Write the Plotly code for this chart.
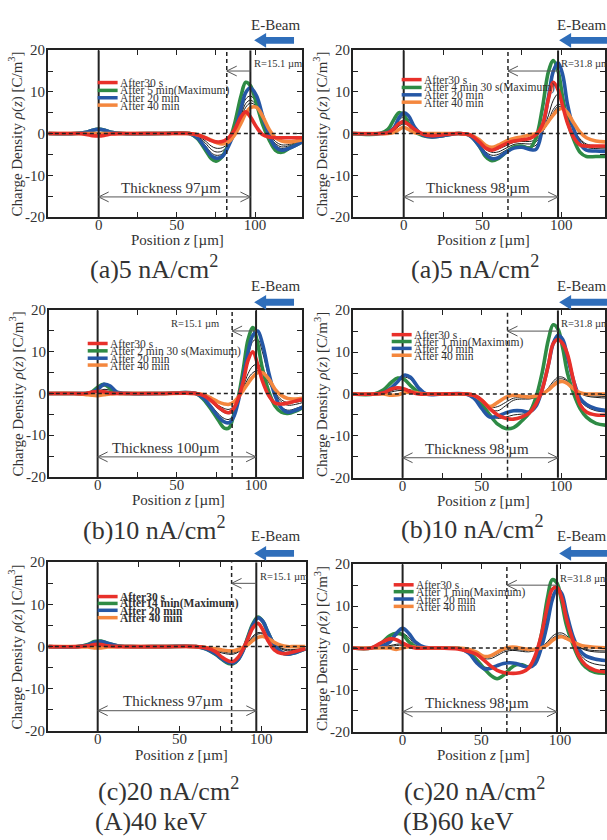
import plotly.graph_objects as go

W, H = 607, 840
FONT = "Liberation Serif, Times New Roman, serif"
RED, GREEN, BLUE, ORANGE = "#E8302A", "#2E8B45", "#2557A5", "#F4873E"
ARROW_BLUE = "#2F6EBA"
INK = "#222222"
TXT = "#333333"

# ------------------------------------------------------------------ data
LEGEND_NAMES = {
    "Aa": ["After30 s", "After 5 min(Maximum)", "After 20 min", "After 40 min"],
    "Ba": ["After30 s", "After 4 min 30 s(Maximum)", "After 20 min", "After 40 min"],
    "Ab": ["After30 s", "After 2 min 30 s(Maximum)", "After 20 min", "After 40 min"],
    "Bb": ["After30 s", "After 1 min(Maximum)", "After 20 min", "After 40 min"],
    "Ac": ["After30 s", "After14 min(Maximum)", "After 20 min", "After 40 min"],
    "Bc": ["After30 s", "After 1 min(Maximum)", "After 20 min", "After 40 min"],
}
THICKNESS = {"Aa": 97, "Ba": 98, "Ab": 100, "Bb": 98, "Ac": 97, "Bc": 98}
THICK_LABEL = {"Aa": "Thickness 97µm", "Ba": "Thickness 98 µm", "Ab": "Thickness 100µm",
               "Bb": "Thickness 98 µm", "Ac": "Thickness 97µm", "Bc": "Thickness 98 µm"}
RANGE_R = {"Aa": 15.1, "Ba": 31.8, "Ab": 15.1, "Bb": 31.8, "Ac": 15.1, "Bc": 31.8}
CURRENT = {"Aa": "(a)5 nA/cm", "Ba": "(a)5 nA/cm", "Ab": "(b)10 nA/cm",
           "Bb": "(b)10 nA/cm", "Ac": "(c)20 nA/cm", "Bc": "(c)20 nA/cm"}
ENERGY = ["(A)40 keV", "(B)60 keV"]
X_MAJOR = [0, 50, 100]
X_MINOR = [25, 75]
Y_MAJOR = [-20, -10, 0, 10, 20]
Y_MINOR = [-15, -5, 5, 15]

# (A) 40 keV, 5 nA/cm2
x_Aa = [-32, -15, -8, -4, 0, 4, 8, 15, 40, 58, 63, 68, 72, 75, 79, 83, 87, 91, 94, 97,
        101, 105, 109, 113, 117, 122, 130]
red_Aa = [0, 0, -0.2, -0.5, -0.6, -0.4, -0.1, 0, 0, 0, -0.3, -1.0, -1.7, -2.0, -1.9, -1.0, 1.0, 4.0, 5.2, 4.0,
          1.5, -0.3, -0.8, -1.0, -1.0, -1.0, -1.0]
green_Aa = [0, 0, 0.3, 0.8, 1.1, 0.8, 0.3, 0, 0, 0, -1.2, -3.8, -6.0, -6.6, -5.5, -2.5, 2.5, 9.0, 12.3, 11.5,
            7.0, 2.0, -1.5, -4.0, -4.5, -3.5, -2.0]
blue_Aa = [0, 0, 0.3, 0.8, 1.0, 0.8, 0.3, 0, 0, 0, -1.0, -3.3, -5.3, -5.9, -5.5, -3.0, 0.5, 6.0, 9.8, 11.0,
           9.0, 4.0, -0.5, -3.2, -4.0, -3.5, -2.0]
orange_Aa = [0, 0, 0, 0, 0, 0, 0, 0, 0, 0, -0.3, -0.9, -1.6, -2.1, -2.5, -2.0, -0.3, 2.5, 4.8, 6.2,
             6.3, 4.0, 1.0, -1.0, -1.8, -2.0, -1.5]
k1_Aa = [0, 0, 0, 0, 0, 0, 0, 0, 0, 0, -0.8, -2.8, -4.6, -5.2, -4.9, -2.8, 0.3, 5.0, 8.3, 9.0,
         7.5, 3.3, -0.4, -2.8, -3.6, -3.2, -1.9]
k2_Aa = [0, 0, 0, 0, 0, 0, 0, 0, 0, 0, -0.6, -2.2, -3.8, -4.4, -4.2, -2.6, 0.2, 4.3, 7.2, 8.0,
         6.8, 3.2, -0.3, -2.4, -3.2, -2.9, -1.8]
k3_Aa = [0, 0, 0, 0, 0, 0, 0, 0, 0, 0, -0.5, -1.7, -3.0, -3.5, -3.4, -2.3, 0.0, 3.6, 6.3, 7.3,
         6.5, 3.4, 0.1, -1.9, -2.7, -2.6, -1.7]

# (B) 60 keV, 5 nA/cm2
x_Ba = [-33, -15, -10, -6, -3, 0, 3, 7, 12, 18, 25, 35, 42, 48, 52, 56, 60, 65, 70, 75,
        80, 84, 88, 92, 95, 98, 101, 104, 108, 112, 116, 122, 130]
red_Ba = [0, 0, 0.2, 1.2, 2.4, 2.8, 2.2, 1.0, -0.1, -0.5, -0.3, 0, -0.3, -2.0, -3.5, -4.0, -3.4, -2.4, -1.8, -1.5,
          -1.2, -0.3, 2.0, 8.5, 12.3, 10.5, 6.5, 2.5, -1.0, -2.7, -3.0, -3.0, -3.0]
green_Ba = [0, 0, 1.0, 3.5, 5.0, 4.5, 2.5, 0.5, -0.5, -0.8, -0.5, 0, -0.5, -3.0, -5.5, -6.5, -6.0, -4.5, -3.2, -3.0,
            -3.5, -1.0, 6.0, 15.0, 17.5, 15.0, 8.5, 3.0, -1.5, -4.5, -5.5, -5.5, -5.5]
blue_Ba = [0, 0, 0.3, 1.5, 3.8, 5.0, 4.3, 1.5, -0.3, -0.8, -0.5, 0, -0.5, -3.0, -5.0, -6.0, -5.8, -4.5, -3.5, -3.3,
           -3.8, -3.8, 1.0, 9.0, 15.0, 17.0, 14.0, 7.0, 1.0, -2.5, -4.0, -4.2, -4.3]
orange_Ba = [0, 0, 0, 0.3, 1.0, 1.5, 1.0, 0.2, 0, 0, 0, 0, -0.3, -1.5, -2.8, -3.3, -2.8, -1.8, -1.2, -0.8,
             -0.3, 0, 1.0, 3.0, 4.5, 5.7, 6.0, 5.0, 2.5, 0.3, -1.0, -1.8, -2.0]
k1_Ba = [0, 0, 0.3, 1.5, 3.2, 4.0, 3.5, 1.2, -0.2, -0.6, -0.4, 0, -0.4, -2.6, -4.4, -5.2, -5.0, -4.0, -3.1, -2.9,
         -3.2, -2.8, 0.2, 4.5, 8.0, 9.5, 8.3, 4.5, 0.8, -2.0, -3.3, -3.6, -3.7]
k2_Ba = [0, 0, 0.2, 1.0, 2.5, 3.2, 2.8, 1.0, -0.1, -0.5, -0.3, 0, -0.3, -2.2, -3.8, -4.5, -4.4, -3.5, -2.6, -2.4,
         -2.5, -2.0, 0.3, 3.2, 5.8, 7.0, 6.5, 3.8, 0.8, -1.6, -2.8, -3.2, -3.3]
k3_Ba = [0, 0, 0.1, 0.7, 1.8, 2.3, 2.0, 0.7, 0, -0.4, -0.2, 0, -0.3, -1.9, -3.3, -3.9, -3.7, -2.9, -2.1, -1.9,
         -1.9, -1.4, 0.4, 2.8, 5.0, 6.5, 6.1, 3.8, 1.0, -1.3, -2.5, -2.9, -3.0]

# (A) 40 keV, 10 nA/cm2
x_Ab = [-31, -15, -8, -4, 0, 4, 8, 12, 20, 40, 62, 67, 72, 76, 80, 83, 86, 89, 92, 95,
        98, 101, 104, 108, 112, 116, 120, 125, 131]
red_Ab = [0, 0, 0, 0.3, 0.5, 0.4, 0.1, 0, 0, 0, 0, -0.5, -1.8, -3.2, -4.3, -4.6, -3.5, -1.0, 3.0, 8.0,
          10.0, 7.0, 3.0, -0.5, -2.3, -2.5, -2.3, -1.8, -1.3]
green_Ab = [0, 0, 0, 0.3, 1.5, 2.2, 1.2, 0.2, 0, 0, 0, -1.5, -4.0, -6.3, -8.3, -8.2, -5.0, -0.5, 6.0, 13.0,
            15.8, 12.0, 6.0, 0.5, -3.0, -4.5, -4.8, -4.2, -3.0]
blue_Ab = [0, 0, 0, 0.2, 1.0, 2.2, 1.8, 0.4, 0, 0, 0, -1.2, -3.5, -5.5, -6.8, -7.0, -5.5, -1.5, 4.0, 10.0,
           14.0, 15.0, 12.0, 5.0, -0.5, -3.5, -4.5, -4.0, -3.0]
orange_Ab = [0, 0, -0.2, -0.4, -0.5, -0.3, -0.1, 0, 0, 0, 0, -0.3, -1.2, -2.0, -2.5, -2.6, -2.0, -0.8, 0.8, 2.5,
             4.0, 5.0, 5.0, 3.5, 1.0, -0.5, -1.2, -1.3, -1.0]
k1_Ab = [0, 0, 0, 0.2, 0.8, 1.8, 1.5, 0.3, 0, 0, 0, -1.0, -3.0, -4.8, -6.0, -6.2, -4.8, -1.2, 3.5, 8.8,
         12.5, 13.0, 10.0, 4.0, -0.6, -3.2, -4.0, -3.6, -2.7]
k2_Ab = [0, 0, 0, 0.1, 0.5, 1.0, 0.8, 0.2, 0, 0, 0, -0.7, -2.2, -3.6, -4.6, -4.8, -3.8, -1.2, 1.8, 4.8,
         6.6, 7.0, 6.0, 3.0, 0, -2.0, -2.8, -2.6, -2.0]
k3_Ab = [0, 0, 0, 0, 0.3, 0.6, 0.5, 0.1, 0, 0, 0, -0.5, -1.7, -2.8, -3.6, -3.8, -3.0, -1.0, 1.3, 3.6,
         5.0, 5.5, 4.9, 2.6, 0.2, -1.5, -2.2, -2.1, -1.6]

# (B) 60 keV, 10 nA/cm2
x_Bb = [-32, -18, -12, -7, -3, 1, 5, 10, 15, 25, 40, 45, 50, 55, 60, 65, 70, 75, 80, 84,
        88, 92, 95, 98, 101, 104, 108, 112, 116, 122, 130]
red_Bb = [0, 0, 0.3, 1.2, 1.5, 1.2, 0.5, 0, 0, 0, 0, -0.3, -1.5, -3.5, -5.0, -5.8, -6.0, -5.5, -4.5, -2.5,
          1.0, 7.0, 12.0, 13.0, 12.0, 9.5, 3.0, -2.5, -4.3, -5.0, -5.0]
green_Bb = [0, 0, 1.0, 2.8, 3.8, 3.5, 2.0, 0.5, 0, 0, 0, -0.5, -2.5, -5.0, -7.2, -8.2, -8.0, -6.5, -4.5, -1.0,
            5.0, 13.0, 16.5, 15.5, 11.0, 5.0, 0, -3.5, -5.5, -7.0, -7.5]
blue_Bb = [0, 0, 0.3, 1.5, 3.0, 4.5, 4.0, 1.5, 0, 0, 0, -1.0, -3.5, -5.5, -5.3, -4.5, -4.0, -4.0, -4.3, -3.0,
           1.0, 7.0, 12.0, 14.0, 13.0, 9.0, 3.0, -1.0, -2.5, -3.5, -4.0]
orange_Bb = [0, 0, 0, -0.3, -0.2, 0.3, 0.5, 0.2, 0, 0, 0, -0.3, -1.5, -3.0, -2.0, -0.8, -0.3, -0.5, -0.7, -0.5,
             0, 1.0, 2.0, 2.8, 3.0, 2.5, 1.2, 0.3, 0, 0, 0]
k1_Bb = [0, 0, 0.3, 1.5, 3.0, 4.0, 3.5, 1.2, 0, 0, 0, -0.8, -3.0, -5.0, -5.8, -5.5, -5.0, -4.8, -4.5, -2.8,
         1.0, 7.5, 12.5, 14.2, 12.5, 8.0, 2.5, -1.5, -3.0, -4.0, -4.3]
k2_Bb = [0, 0, 0.2, 0.8, 1.2, 1.2, 1.0, 0.4, 0, 0, 0, -0.5, -1.8, -3.5, -4.0, -2.8, -1.5, -1.2, -1.2, -0.8,
         0, 1.5, 3.0, 4.0, 4.0, 3.2, 1.5, 0.2, -0.5, -0.8, -1.0]
k3_Bb = [0, 0, 0.1, 0.5, 0.8, 0.8, 0.7, 0.3, 0, 0, 0, -0.4, -1.6, -3.2, -3.0, -2.0, -1.0, -0.9, -1.0, -0.7,
         0, 1.2, 2.5, 3.5, 3.6, 3.0, 1.4, 0.2, -0.3, -0.5, -0.6]

# (A) 40 keV, 20 nA/cm2
x_Ac = [-30, -12, -6, -2, 2, 6, 12, 20, 40, 60, 66, 72, 76, 80, 83, 86, 89, 92, 95, 98,
        101, 104, 108, 112, 116, 120, 127]
red_Ac = [0, 0, 0.2, 0.5, 0.5, 0.2, 0, 0, 0, 0, -0.3, -1.2, -2.5, -3.4, -3.5, -2.5, -0.5, 2.0, 4.5, 5.5,
          4.0, 1.5, -0.8, -1.6, -1.6, -1.2, -0.5]
green_Ac = [0, 0, 0.5, 1.2, 1.3, 0.8, 0.2, 0, 0, 0, -0.5, -1.8, -3.0, -4.0, -4.0, -3.0, -0.8, 2.5, 5.5, 7.0,
            6.0, 3.5, 0.5, -1.2, -1.8, -1.5, -0.5]
blue_Ac = [0, 0, 0.4, 1.0, 1.2, 0.8, 0.2, 0, 0, 0, -0.5, -1.7, -2.9, -3.8, -3.9, -3.0, -0.9, 2.2, 5.2, 6.8,
           6.0, 3.5, 0.5, -1.2, -1.8, -1.5, -0.5]
orange_Ac = [0, 0, -0.1, -0.3, -0.3, -0.1, 0, 0, 0, 0, -0.2, -0.5, -0.8, -1.0, -1.0, -0.7, -0.2, 0.5, 1.5, 2.2,
             2.4, 2.0, 1.0, 0.3, 0, 0, 0]
k1_Ac = [0, 0, 0.2, 0.5, 0.6, 0.3, 0, 0, 0, 0, -0.3, -1.0, -1.5, -1.8, -1.8, -1.3, -0.3, 1.0, 2.5, 3.3,
         3.2, 2.3, 0.7, -0.5, -1.0, -0.9, -0.4]
k2_Ac = [0, 0, 0.1, 0.3, 0.4, 0.2, 0, 0, 0, 0, -0.2, -0.8, -1.2, -1.5, -1.5, -1.1, -0.3, 0.8, 2.2, 3.0,
         3.0, 2.2, 0.8, -0.3, -0.7, -0.7, -0.3]

# (B) 60 keV, 20 nA/cm2
x_Bc = [-32, -20, -14, -8, -4, 0, 4, 8, 14, 25, 35, 42, 47, 52, 56, 60, 64, 68, 72, 76,
        80, 84, 88, 92, 95, 98, 101, 104, 108, 112, 116, 122, 130]
red_Bc = [0, 0, 1.2, 2.2, 2.0, 1.2, 0.5, 0, 0, 0, -0.2, -0.8, -1.5, -3.0, -4.3, -5.3, -5.8, -6.0, -6.0, -5.7,
          -4.8, -2.0, 3.0, 10.0, 14.0, 14.5, 12.0, 7.0, 2.0, -2.0, -4.0, -5.3, -5.7]
green_Bc = [0, 0, 1.0, 3.0, 3.5, 3.2, 1.5, 0.3, 0, 0, 0, -1.0, -2.8, -5.0, -6.5, -7.3, -6.5, -5.0, -4.0, -4.0,
            -4.5, -2.5, 3.0, 12.0, 16.3, 15.5, 11.0, 5.5, 1.0, -2.5, -4.5, -5.8, -6.0]
blue_Bc = [0, 0, 0.3, 1.5, 3.5, 4.7, 3.5, 1.5, 0.2, 0, 0, -1.2, -3.5, -5.0, -4.8, -4.2, -3.7, -3.5, -3.7, -4.2,
           -4.6, -3.8, 0, 6.0, 11.5, 14.0, 13.0, 8.5, 3.0, -0.3, -1.8, -2.6, -3.0]
orange_Bc = [0, 0, 0, 0, -0.3, 0, 0.3, 0.2, 0, 0, 0, -0.3, -1.0, -2.0, -1.8, -1.0, -0.2, 0.2, 0.2, -0.1,
             -0.3, -0.3, 0, 0.8, 1.8, 2.5, 2.7, 2.3, 1.5, 0.8, 0.4, 0.2, 0]
k1_Bc = [0, 0, 0.5, 2.0, 3.0, 3.5, 2.5, 0.8, 0.1, 0, 0, -1.0, -3.0, -4.5, -4.6, -4.2, -3.8, -3.6, -3.7, -4.0,
         -4.3, -3.0, 1.0, 8.0, 12.5, 14.0, 12.5, 7.5, 2.5, -1.0, -2.8, -3.8, -4.2]
k2_Bc = [0, 0, 0.2, 0.6, 0.9, 1.0, 0.8, 0.3, 0, 0, 0, -0.5, -1.5, -2.5, -2.5, -1.8, -1.0, -0.6, -0.6, -0.8,
         -0.9, -0.6, 0.2, 1.5, 2.8, 3.5, 3.6, 3.0, 1.6, 0.3, -0.5, -0.9, -1.0]
k3_Bc = [0, 0, 0.1, 0.4, 0.6, 0.7, 0.5, 0.2, 0, 0, 0, -0.4, -1.2, -2.2, -2.1, -1.4, -0.6, -0.3, -0.3, -0.5,
         -0.6, -0.4, 0.2, 1.2, 2.3, 3.0, 3.1, 2.6, 1.4, 0.3, -0.3, -0.6, -0.7]

SERIES = {
    "Aa": (x_Aa, [red_Aa, green_Aa, blue_Aa, orange_Aa], [k1_Aa, k2_Aa, k3_Aa]),
    "Ba": (x_Ba, [red_Ba, green_Ba, blue_Ba, orange_Ba], [k1_Ba, k2_Ba, k3_Ba]),
    "Ab": (x_Ab, [red_Ab, green_Ab, blue_Ab, orange_Ab], [k1_Ab, k2_Ab, k3_Ab]),
    "Bb": (x_Bb, [red_Bb, green_Bb, blue_Bb, orange_Bb], [k1_Bb, k2_Bb, k3_Bb]),
    "Ac": (x_Ac, [red_Ac, green_Ac, blue_Ac, orange_Ac], [k1_Ac, k2_Ac]),
    "Bc": (x_Bc, [red_Bc, green_Bc, blue_Bc, orange_Bc], [k1_Bc, k2_Bc, k3_Bc]),
}
COLORS = [RED, GREEN, BLUE, ORANGE]

# ------------------------------------------------------------------ layout geometry (pixels)
GEOM = {
    "Aa": dict(box=(48, 303, 43, 213), xr=(-32.5, 130.0)),
    "Ba": dict(box=(354, 607, 43, 213), xr=(-32.3, 127.8)),
    "Ab": dict(box=(49, 303, 308, 478), xr=(-30.8, 129.0)),
    "Bb": dict(box=(354, 607, 308, 479), xr=(-31.4, 127.7)),
    "Ac": dict(box=(48, 307, 565, 737), xr=(-30.5, 127.4)),
    "Bc": dict(box=(354, 607, 567, 738), xr=(-31.6, 128.5)),
}
STYLE = {
    "Aa": dict(leg=(98, 118, [76, 84, 91.5, 99]), thick_x=46, r_side="right", title=(155, 265), xt=178, bold=False),
    "Ba": dict(leg=(403, 423, [73, 81, 88.5, 96]), thick_x=47, r_side="right", title=(477, 265), xt=485, bold=False),
    "Ab": dict(leg=(88, 108, [342, 349.5, 357, 364]), thick_x=43, r_side="left", title=(155, 531), xt=179, bold=False),
    "Bb": dict(leg=(393, 413, [333, 340, 347, 354]), thick_x=47, r_side="right", title=(474, 530), xt=485, bold=False),
    "Ac": dict(leg=(98, 118, [600, 607, 614, 621.5]), thick_x=46, r_side="right", title=(169, 797), xt=182, bold=True),
    "Bc": dict(leg=(395, 415, [588, 595, 602.5, 610]), thick_x=47.5, r_side="right", title=(476, 797), xt=485, bold=False),
}
ORDER = ["Aa", "Ba", "Ab", "Bb", "Ac", "Bc"]
EBEAM_ROWS = [(17, 33), (283, 300), (538, 556)]


def pxx(p):
    return p / W


def pxy(p):
    return 1 - p / H


fig = go.Figure()
shapes = []
annotations = []
layout_axes = {}

for i, key in enumerate(ORDER, start=1):
    xa_name = "xaxis" if i == 1 else f"xaxis{i}"
    ya_name = "yaxis" if i == 1 else f"yaxis{i}"
    xref = "x" if i == 1 else f"x{i}"
    yref = "y" if i == 1 else f"y{i}"
    L, R, T, B = GEOM[key]["box"]
    xr = GEOM[key]["xr"]
    st = STYLE[key]

    layout_axes[xa_name] = dict(
        domain=[pxx(L), min(pxx(R), 1.0)], range=list(xr), anchor=yref,
        showline=True, linecolor=INK, linewidth=1.5, mirror="ticks",
        ticks="inside", ticklen=5, tickwidth=1.3, tickcolor=INK,
        tickvals=X_MAJOR, ticktext=[str(v) for v in X_MAJOR], ticklabelstandoff=-7,
        minor=dict(tickvals=X_MINOR, ticks="inside", ticklen=5, tickwidth=1.3, tickcolor=INK, showgrid=False),
        tickfont=dict(family=FONT, size=15, color=TXT),
        showgrid=False, zeroline=False, fixedrange=True,
    )
    layout_axes[ya_name] = dict(
        domain=[pxy(B), pxy(T)], range=[-20, 20], anchor=xref,
        showline=True, linecolor=INK, linewidth=1.5, mirror="ticks",
        ticks="inside", ticklen=5, tickwidth=1.3, tickcolor=INK,
        tickvals=Y_MAJOR, ticktext=[str(v) for v in Y_MAJOR], ticklabelstandoff=-2,
        minor=dict(tickvals=Y_MINOR, ticks="inside", ticklen=5, tickwidth=1.3, tickcolor=INK, showgrid=False),
        tickfont=dict(family=FONT, size=15, color=TXT),
        showgrid=False, zeroline=False, fixedrange=True,
    )

    xs, colored, blacks = SERIES[key]
    for kb in blacks:
        fig.add_trace(go.Scatter(x=xs, y=kb, mode="lines", xaxis=xref, yaxis=yref,
                                 line=dict(color="#1a1a1a", width=1, shape="spline", smoothing=1.0),
                                 hoverinfo="skip", showlegend=False))
    for idx in [1, 2, 3, 0]:
        fig.add_trace(go.Scatter(x=xs, y=colored[idx], mode="lines", xaxis=xref, yaxis=yref,
                                 line=dict(color=COLORS[idx], width=3.6, shape="spline", smoothing=1.0),
                                 hoverinfo="skip", showlegend=False))

    ppx = (R - L) / (xr[1] - xr[0])
    ppy = (B - T) / 40.0
    thick = THICKNESS[key]
    rr = RANGE_R[key]
    xdash = thick - rr

    # reference lines
    shapes.append(dict(type="line", xref=xref, yref=yref, x0=xr[0], x1=xr[1], y0=0, y1=0,
                       line=dict(color=INK, width=1.5, dash="4px,3px"), layer="above"))
    shapes.append(dict(type="line", xref=xref, yref=yref, x0=0, x1=0, y0=-20, y1=20,
                       line=dict(color=INK, width=2), layer="above"))
    shapes.append(dict(type="line", xref=xref, yref=yref, x0=thick, x1=thick, y0=-20, y1=20,
                       line=dict(color=INK, width=2), layer="above"))
    shapes.append(dict(type="line", xref=xref, yref=yref, x0=xdash, x1=xdash, y0=-20, y1=20,
                       line=dict(color=INK, width=1.5, dash="4px,3px"), layer="above"))

    # thickness double arrow
    ya = -15.2
    hdx, hdy = 10 / ppx, 5 / ppy
    shapes.append(dict(type="line", xref=xref, yref=yref, x0=0, x1=thick, y0=ya, y1=ya,
                       line=dict(color="#555555", width=1)))
    shapes.append(dict(type="path", xref=xref, yref=yref,
                       path=f"M {0 + hdx},{ya + hdy} L 0,{ya} L {0 + hdx},{ya - hdy}",
                       line=dict(color="#555555", width=1)))
    shapes.append(dict(type="path", xref=xref, yref=yref,
                       path=f"M {thick - hdx},{ya + hdy} L {thick},{ya} L {thick - hdx},{ya - hdy}",
                       line=dict(color="#555555", width=1)))
    annotations.append(dict(xref=xref, yref=yref, x=st["thick_x"], y=-13.0, text=THICK_LABEL[key],
                            showarrow=False, xanchor="center", yanchor="middle",
                            font=dict(family=FONT, size=15, color=TXT)))

    # range arrow
    yr_ = 15.0
    shapes.append(dict(type="line", xref=xref, yref=yref, x0=xdash, x1=thick, y0=yr_, y1=yr_,
                       line=dict(color="#555555", width=1)))
    shapes.append(dict(type="path", xref=xref, yref=yref,
                       path=f"M {xdash + hdx},{yr_ + hdy} L {xdash},{yr_} L {xdash + hdx},{yr_ - hdy}",
                       line=dict(color="#555555", width=1)))
    if st["r_side"] == "right":
        annotations.append(dict(xref=xref, yref=yref, x=thick + 0.8, y=16.7, text=f"R={rr} µm",
                                showarrow=False, xanchor="left", yanchor="middle",
                                font=dict(family=FONT, size=10.5, color=TXT)))
    else:
        annotations.append(dict(xref=xref, yref=yref, x=xdash - 7, y=16.7, text=f"R={rr} µm",
                                showarrow=False, xanchor="right", yanchor="middle",
                                font=dict(family=FONT, size=10.5, color=TXT)))

    # legend (manual)
    lx0, lx1, lys = st["leg"]
    for name, col, ly in zip(LEGEND_NAMES[key], COLORS, lys):
        shapes.append(dict(type="line", xref="paper", yref="paper", x0=pxx(lx0), x1=pxx(lx1),
                           y0=pxy(ly), y1=pxy(ly), line=dict(color=col, width=3.5)))
        txt = f"<b>{name}</b>" if st["bold"] else name
        annotations.append(dict(xref="paper", yref="paper", x=pxx(lx1 + 0.5), y=pxy(ly + 0.5), text=txt,
                                showarrow=False, xanchor="left", yanchor="middle",
                                font=dict(family=FONT, size=11.5, color=TXT)))

    # axis titles
    annotations.append(dict(xref="paper", yref="paper", x=pxx(st["xt"]), y=pxy(B + 24),
                            text="Position <i>z</i> [µm]", showarrow=False,
                            xanchor="center", yanchor="middle",
                            font=dict(family=FONT, size=15, color=TXT)))
    annotations.append(dict(xref="paper", yref="paper", x=pxx(L - 32), y=pxy((T + B) / 2),
                            text="Charge Density <i>ρ</i>(<i>z</i>) [C/m<sup>3</sup>]",
                            showarrow=False, textangle=-90, xanchor="center", yanchor="middle",
                            font=dict(family=FONT, size=15, color=TXT)))
    # panel title
    tx, ty = st["title"]
    annotations.append(dict(xref="paper", yref="paper", x=pxx(tx), y=pxy(ty),
                            text=CURRENT[key] + "<sup>2</sup>", showarrow=False,
                            xanchor="center", yanchor="middle",
                            font=dict(family=FONT, size=26, color=TXT)))

# E-Beam labels and arrows
for (ty, ay) in EBEAM_ROWS:
    for (tx, tip, tail) in [(276, 255, 295), (583, 561, 615)]:
        annotations.append(dict(xref="paper", yref="paper", x=pxx(tx), y=pxy(ty), text="E-Beam",
                                showarrow=False, xanchor="center", yanchor="middle",
                                font=dict(family=FONT, size=15, color=TXT)))
        hb = tip + 12
        pts = [(tip, ay), (hb, ay - 7.5), (hb, ay - 3.5), (tail, ay - 3.5),
               (tail, ay + 3.5), (hb, ay + 3.5), (hb, ay + 7.5)]
        path = "M " + " L ".join(f"{pxx(a)},{pxy(b)}" for a, b in pts) + " Z"
        shapes.append(dict(type="path", xref="paper", yref="paper", path=path,
                           fillcolor=ARROW_BLUE, line=dict(color=ARROW_BLUE, width=0)))

# energy labels
for lab, cx in zip(ENERGY, [152, 460]):
    annotations.append(dict(xref="paper", yref="paper", x=pxx(cx), y=pxy(829), text=lab,
                            showarrow=False, xanchor="center", yanchor="middle",
                            font=dict(family=FONT, size=26, color=TXT)))

fig.update_layout(
    width=W, height=H, margin=dict(l=0, r=0, t=0, b=0),
    paper_bgcolor="white", plot_bgcolor="white", showlegend=False,
    shapes=shapes, annotations=annotations, **layout_axes,
)

fig.write_html("out.html", config={"displayModeBar": False},
               post_script="document.body.style.margin='0px';document.body.style.overflow='hidden';")
